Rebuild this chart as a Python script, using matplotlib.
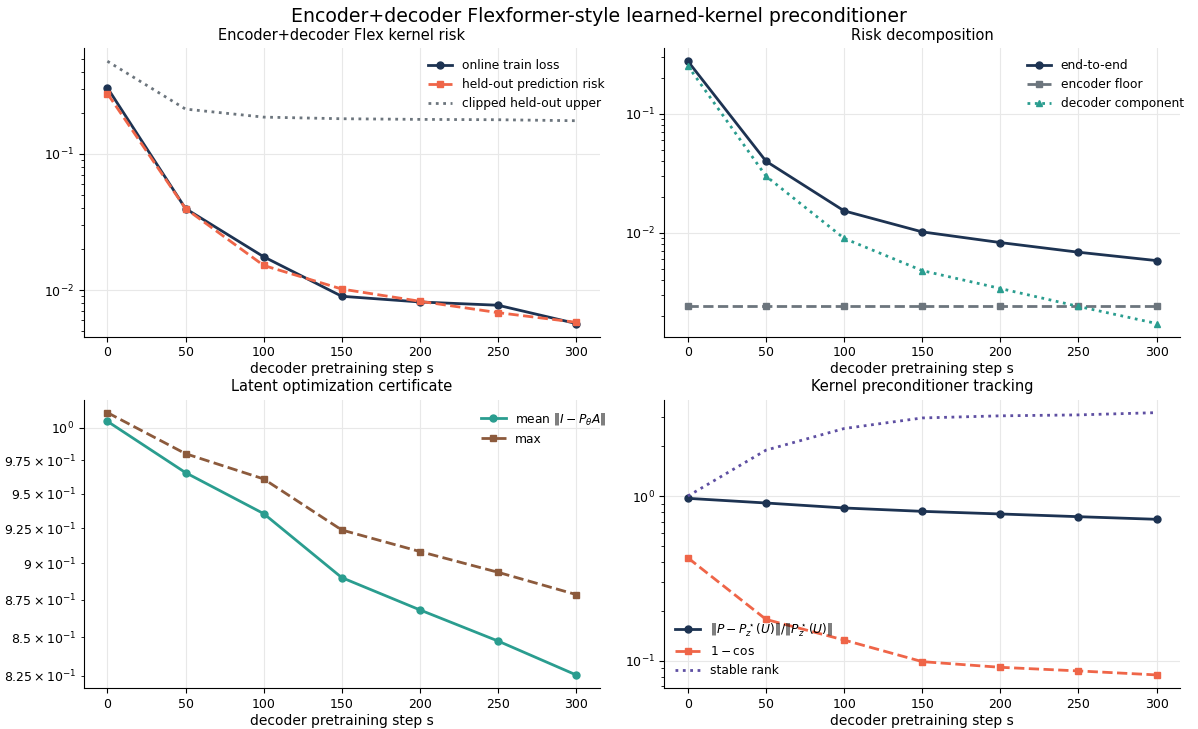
import matplotlib
matplotlib.use("Agg")
import matplotlib.pyplot as plt

steps = [0, 50, 100, 150, 200, 250, 300]

# Panel 1: Encoder+decoder Flex kernel risk
online_train_loss = [0.305, 0.0397, 0.0176, 0.00903, 0.0082, 0.00776, 0.0057]
heldout_risk = [0.277, 0.0397, 0.0152, 0.0102, 0.0083, 0.00685, 0.00582]
clipped_upper = [0.478, 0.213, 0.186, 0.181, 0.179, 0.178, 0.175]

# Panel 2: Risk decomposition
end_to_end = [0.275, 0.0399, 0.0153, 0.0102, 0.0083, 0.00689, 0.00586]
encoder_floor = [0.00242, 0.00242, 0.00242, 0.00242, 0.00242, 0.00242, 0.00242]
decoder_component = [0.251, 0.0299, 0.0090, 0.00483, 0.00342, 0.00242, 0.00174]

# Panel 3: Latent optimization certificate
mean_cert = [1.0049, 0.9657, 0.9355, 0.8902, 0.8682, 0.8475, 0.8255]
max_cert = [1.0117, 0.980, 0.961, 0.9237, 0.9084, 0.8939, 0.8786]

# Panel 4: Kernel preconditioner tracking
rel_err = [0.968, 0.907, 0.846, 0.807, 0.778, 0.749, 0.722]
one_minus_cos = [0.421, 0.178, 0.1334, 0.0986, 0.0911, 0.0866, 0.0819]
stable_rank = [1.0, 1.90, 2.57, 2.98, 3.07, 3.11, 3.21]

NAVY = "#1d3352"
CORAL = "#ef6548"
GRAY = "#6c757d"
TEAL = "#2a9d8f"
BROWN = "#8c5a3c"
PURPLE = "#5e4fa2"

plt.rcParams["font.family"] = ["DejaVu Sans"]
plt.rcParams["font.size"] = 9

fig, axes = plt.subplots(2, 2, figsize=(11.98, 7.29), dpi=100)
fig.subplots_adjust(left=0.0701, right=0.985, top=0.934, bottom=0.0562,
                    hspace=0.218, wspace=0.126)
fig.suptitle("Encoder+decoder Flexformer-style learned-kernel preconditioner",
             fontsize=13.6, y=0.99)

def style(ax, title):
    ax.set_yscale("log")
    ax.set_title(title, fontsize=10.5)
    ax.set_xlabel("decoder pretraining step s", fontsize=10, labelpad=2)
    ax.tick_params(labelsize=9)
    ax.grid(True, color="#e8e8e8", linewidth=0.8)
    ax.set_axisbelow(True)
    for s in ("top", "right"):
        ax.spines[s].set_visible(False)

LEG = dict(frameon=False, fontsize=8.8)

ax = axes[0, 0]
ax.plot(steps, online_train_loss, color=NAVY, lw=2, marker="o", ms=5, label="online train loss")
ax.plot(steps, heldout_risk, color=CORAL, lw=2, ls="--", marker="s", ms=5, label="held-out prediction risk")
ax.plot(steps, clipped_upper, color=GRAY, lw=2, ls=":", label="clipped held-out upper")
style(ax, "Encoder+decoder Flex kernel risk")
ax.legend(loc="upper right", bbox_to_anchor=(1.031, 1.0), **LEG)

ax = axes[0, 1]
ax.plot(steps, end_to_end, color=NAVY, lw=2, marker="o", ms=5, label="end-to-end")
ax.plot(steps, encoder_floor, color=GRAY, lw=2, ls="--", marker="s", ms=5, label="encoder floor")
ax.plot(steps, decoder_component, color=TEAL, lw=2, ls=":", marker="^", ms=5, label="decoder component")
style(ax, "Risk decomposition")
ax.legend(loc="upper right", bbox_to_anchor=(1.029, 1.0), **LEG)

ax = axes[1, 0]
ax.plot(steps, mean_cert, color=TEAL, lw=2, marker="o", ms=5, label=r"mean $\|I - P_\theta A\|$")
ax.plot(steps, max_cert, color=BROWN, lw=2, ls="--", marker="s", ms=5, label="max")
style(ax, "Latent optimization certificate")
ax.legend(loc="upper right", bbox_to_anchor=(1.035, 1.0), **LEG)

ax = axes[1, 1]
ax.plot(steps, rel_err, color=NAVY, lw=2, marker="o", ms=5,
        label=r"$\|P - P_z^\star(U)\| / \|P_z^\star(U)\|$")
ax.plot(steps, one_minus_cos, color=CORAL, lw=2, ls="--", marker="s", ms=5, label=r"$1 - \cos$")
ax.plot(steps, stable_rank, color=PURPLE, lw=2, ls=":", label="stable rank")
style(ax, "Kernel preconditioner tracking")
ax.legend(loc="lower left", **LEG)

fig.savefig("out.png", dpi=100)
